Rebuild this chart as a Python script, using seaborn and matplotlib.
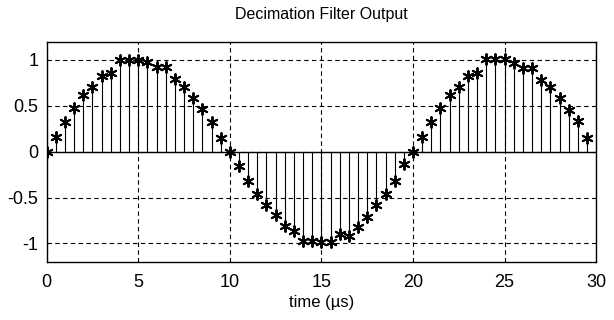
import matplotlib
matplotlib.use("Agg")
import matplotlib.pyplot as plt
import seaborn as sns
import pandas as pd

time_us = [i * 0.5 for i in range(60)]
pos_half = [0.0, 0.156, 0.32, 0.476, 0.615, 0.70, 0.83, 0.86, 1.0, 1.0,
            1.0, 0.975, 0.92, 0.92, 0.79, 0.71, 0.58, 0.465, 0.327, 0.149]
neg_half = [0.0, -0.159, -0.32, -0.46, -0.58, -0.686, -0.81, -0.86, -0.975, -0.975,
            -0.98, -0.98, -0.90, -0.92, -0.82, -0.71, -0.58, -0.456, -0.32, -0.135]
pos_half2 = [0.0, 0.156, 0.326, 0.475, 0.616, 0.707, 0.826, 0.862, 1.01, 1.01,
             1.01, 0.97, 0.917, 0.917, 0.78, 0.71, 0.58, 0.457, 0.33, 0.145]
output = pos_half + neg_half + pos_half2

xticks = [0, 5, 10, 15, 20, 25, 30]
yticks = [-1, -0.5, 0, 0.5, 1]
ytick_labels = ["-1", "-0.5", "0", "0.5", "1"]

df = pd.DataFrame({"time": time_us, "output": output})

sns.set_style("white")
plt.rcParams["font.family"] = ["Liberation Sans", "DejaVu Sans"]
plt.rcParams["text.color"] = "black"
plt.rcParams["axes.labelcolor"] = "black"

fig = plt.figure(figsize=(6.14, 3.20), dpi=100)
ax = fig.add_axes([0.076, 0.182, 0.895, 0.688])

ax.vlines(df["time"], 0, df["output"], color="black", lw=0.8, zorder=2)
ax.axhline(0, color="black", lw=1.0, zorder=2)
sns.scatterplot(data=df, x="time", y="output", marker=(6, 2, 0), s=60,
                color="black", linewidth=1.4, edgecolor="black", ax=ax, zorder=3)

ax.set_xlim(0, 30)
ax.set_ylim(-1.2, 1.2)
ax.set_xticks(xticks)
ax.set_xticklabels([str(v) for v in xticks])
ax.set_yticks(yticks)
ax.set_yticklabels(ytick_labels)
ax.grid(True, color="black", linestyle=(0, (4, 3)), lw=0.8)
ax.tick_params(axis="x", direction="in", length=4, labelsize=13, colors="black", pad=9)
ax.tick_params(axis="y", direction="in", length=4, labelsize=13, colors="black", pad=6)
for s in ax.spines.values():
    s.set_color("black")
    s.set_linewidth(1.0)
ax.set_xlabel("time (µs)", fontsize=12, labelpad=3, color="black")
ax.set_ylabel("")
ax.set_title("Decimation Filter Output", fontsize=11.5, pad=16, color="black")

fig.savefig("out.png", dpi=100)
